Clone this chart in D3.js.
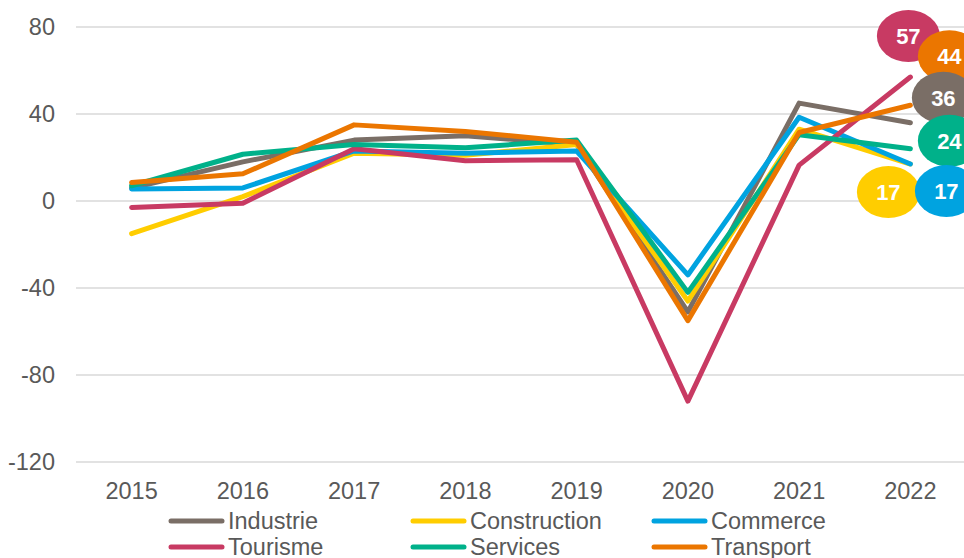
<!DOCTYPE html>
<html>
<head>
<meta charset="utf-8">
<script src="https://cdn.jsdelivr.net/npm/d3@7"></script>
<style>
  html, body { margin: 0; padding: 0; background: #fff; }
  svg { display: block; font-family: "Liberation Sans", Arial, sans-serif; }
</style>
</head>
<body>
<svg id="chart" width="964" height="558"></svg>
<script>
// categories and series
var years = ["2015", "2016", "2017", "2018", "2019", "2020", "2021", "2022"];
var industrie    = [6, 18, 28, 30, 26, -51, 45, 36];
var construction = [-15, 2, 22, 21, 26, -46, 33, 17];
var commerce     = [5.5, 6, 23, 22, 23, -34, 38.5, 17];
var tourisme     = [-3, -1, 24, 18.5, 19, -92, 16.5, 57];
var services     = [7, 21.5, 26, 24.5, 28, -42, 30.5, 24];
var transport    = [8.5, 12.5, 35, 32, 27, -55, 31.5, 44];
var yTicks = [-120, -80, -40, 0, 40, 80];

var seriesNames  = ["Industrie", "Construction", "Commerce", "Tourisme", "Services", "Transport"];
var seriesColors = ["#7a6e66", "#ffcd00", "#00a3e0", "#c83a63", "#00b18a", "#eb7600"];
var seriesValues = [industrie, construction, commerce, tourisme, services, transport];

// end labels: drawing order and offset from the last point (layout only)
var labelOrder = [3, 5, 0, 4, 1, 2];
var labelOffset = [[33, -25], [-22, 28], [36, 27], [-2, -41], [39, -8], [39, -49]];

var svg = d3.select("#chart");
var textColor = "#595959";
var fontSize = 23.5;

var x = d3.scaleBand().domain(years).range([76, 966]).padding(0);
var y = d3.scaleLinear().domain([-120, 80]).range([462, 27]);
var cx = function(d){ return x(d) + x.bandwidth()/2; };

// grid lines
svg.append("g").selectAll("line").data(yTicks).enter().append("line")
  .attr("x1", 76).attr("x2", 964)
  .attr("y1", function(d){ return y(d); })
  .attr("y2", function(d){ return y(d); })
  .attr("stroke", "#d9d9d9").attr("stroke-width", 1.5);

// y axis labels
svg.append("g").selectAll("text").data(yTicks).enter().append("text")
  .attr("x", 55).attr("y", function(d){ return y(d); })
  .attr("dy", "0.35em")
  .attr("text-anchor", "end")
  .attr("font-size", fontSize).attr("fill", textColor)
  .text(function(d){ return d; });

// x axis labels
svg.append("g").selectAll("text").data(years).enter().append("text")
  .attr("x", function(d){ return cx(d); }).attr("y", 499)
  .attr("text-anchor", "middle")
  .attr("font-size", fontSize).attr("fill", textColor)
  .text(function(d){ return d; });

var line = d3.line()
  .x(function(d, i){ return cx(years[i]); })
  .y(function(d){ return y(d); });

svg.append("g").selectAll("path").data(seriesValues).enter().append("path")
  .attr("d", line)
  .attr("fill", "none")
  .attr("stroke", function(d, i){ return seriesColors[i]; })
  .attr("stroke-width", 5)
  .attr("stroke-linecap", "round")
  .attr("stroke-linejoin", "round");

// value bubbles at the end
var last = years.length - 1;
var lab = svg.append("g");
for (let k of labelOrder){
  let v = seriesValues[k][last];
  let px = cx(years[last]) + labelOffset[k][0];
  let py = y(v) + labelOffset[k][1];
  lab.append("ellipse")
    .attr("cx", px).attr("cy", py)
    .attr("rx", 31.5).attr("ry", 26)
    .attr("fill", seriesColors[k]);
  lab.append("text")
    .attr("x", px).attr("y", py)
    .attr("dy", "0.36em")
    .attr("text-anchor", "middle")
    .attr("font-size", 22).attr("font-weight", "bold")
    .attr("fill", "#fff")
    .text(Math.round(v));
}

// legend, 3 columns x 2 rows
var legendCols = [171, 413, 654];
var legendRows = [521, 547];
var leg = svg.append("g");
seriesNames.forEach(function(name, i){
  let lx = legendCols[i % 3];
  let ly = legendRows[Math.floor(i / 3)];
  leg.append("line")
    .attr("x1", lx).attr("x2", lx + 51)
    .attr("y1", ly).attr("y2", ly)
    .attr("stroke", seriesColors[i]).attr("stroke-width", 5)
    .attr("stroke-linecap", "round");
  leg.append("text")
    .attr("x", lx + 57).attr("y", ly)
    .attr("dy", "0.35em")
    .attr("font-size", fontSize).attr("fill", textColor)
    .text(name);
});
</script>
</body>
</html>
